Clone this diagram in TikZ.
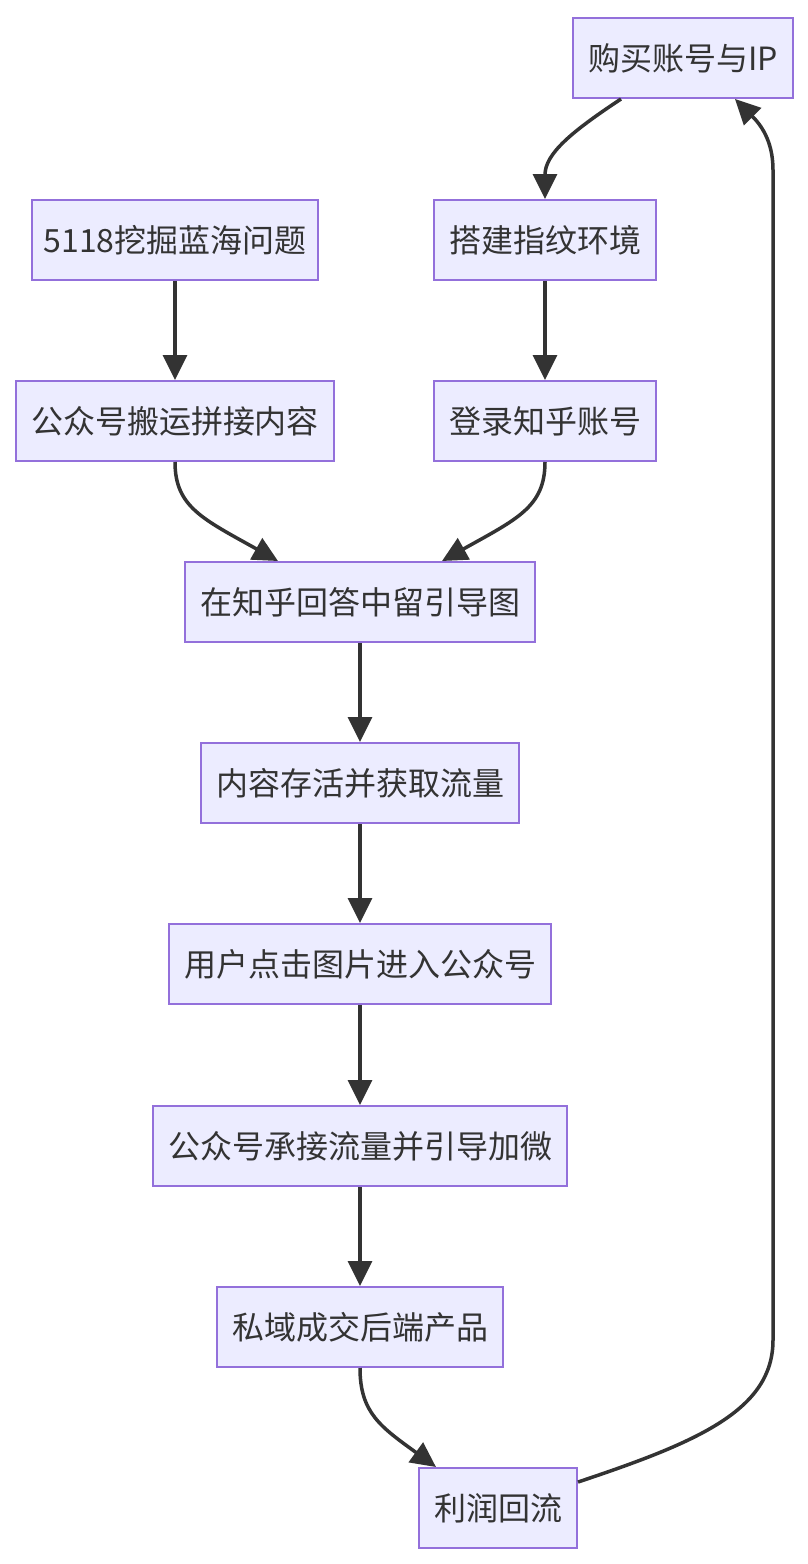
\documentclass[tikz,border=0pt]{standalone}
\usepackage{fontspec}
\newfontfamily\cjk{Noto Sans CJK SC}
\usetikzlibrary{arrows.meta}
\definecolor{nodefill}{HTML}{ECECFF}
\definecolor{nodeborder}{HTML}{9370DB}
\definecolor{edgecol}{HTML}{333333}
\begin{document}
\begin{tikzpicture}[x=1pt,y=-1pt,
  box/.style={draw=nodeborder, fill=nodefill, line width=2pt, minimum height=80pt,
    inner xsep=15pt, inner ysep=0pt, font=\cjk\fontsize{32}{38}\selectfont, text=edgecol},
  edge/.style={draw=edgecol, line width=3.5pt, -{Triangle[length=25pt,width=24pt]}}]
\useasboundingbox[fill=white] (0,0) rectangle (808,1564);

\node[box] (buy) at (683,58) {购买账号与IP};
\node[box, inner xsep=11.5pt] (q5118) at (175,240) {5118挖掘蓝海问题};
\node[box] (build) at (545,240) {搭建指纹环境};
\node[box] (gzh) at (175,421) {公众号搬运拼接内容};
\node[box] (login) at (545,421) {登录知乎账号};
\node[box] (answer) at (360,602) {在知乎回答中留引导图};
\node[box] (alive) at (360,783) {内容存活并获取流量};
\node[box] (click) at (360,964) {用户点击图片进入公众号};
\node[box] (wechat) at (360,1146) {公众号承接流量并引导加微};
\node[box] (private) at (360,1327) {私域成交后端产品};
\node[box] (profit) at (498,1508) {利润回流};

\draw[edge] ([xshift=-62pt]buy.south) .. controls +(-50,33) and +(0,-45) .. (build.north);
\draw[edge] (q5118) -- (gzh);
\draw[edge] (build) -- (login);
\draw[edge] (gzh.south) .. controls +(0,45) and +(-75,-42) .. ([xshift=-82pt]answer.north);
\draw[edge] (login.south) .. controls +(0,45) and +(75,-42) .. ([xshift=82pt]answer.north);
\draw[edge] (answer) -- (alive);
\draw[edge] (alive) -- (click);
\draw[edge] (click) -- (wechat);
\draw[edge] (wechat) -- (private);
\draw[edge] (private.south) .. controls +(0,45) and +(-55,-40) .. ([xshift=-62pt]profit.north);
\coordinate (rlow) at (773,1340);
\coordinate (rhigh) at (773,170);
\draw[edge] ([yshift=26pt]profit.east) .. controls +(120,-40) and +(0,70) .. (rlow)
  -- (rhigh) .. controls +(0,-30) and +(25,25) .. ([xshift=52pt]buy.south);
\end{tikzpicture}
\end{document}
